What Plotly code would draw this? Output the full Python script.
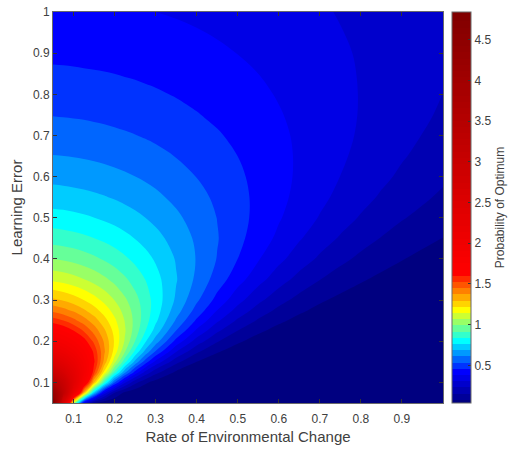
import plotly.graph_objects as go

# ---- data ----
rate_of_change = [0.05, 0.075, 0.1, 0.125, 0.15, 0.175, 0.2, 0.225, 0.25, 0.275, 0.3, 0.35,
                  0.4, 0.45, 0.5, 0.55, 0.6, 0.65, 0.7, 0.75, 0.8, 0.85, 0.9, 1.0]
learning_error = [0.05, 0.075, 0.1, 0.125, 0.15, 0.175, 0.2, 0.225, 0.25, 0.275, 0.3, 0.35,
                  0.4, 0.45, 0.5, 0.55, 0.6, 0.65, 0.7, 0.75, 0.8, 0.85, 0.9, 1.0]

# probability of optimum, one list per learning-error row (columns follow rate_of_change)
p_err_0050 = [4.839, 2.590, 1.080, 0.351, 0.089, 0.017, 0.003, 0.0, 0.0, 0.0, 0.0, 0.0,
              0.0, 0.0, 0.0, 0.0, 0.0, 0.0, 0.0, 0.0, 0.0, 0.0, 0.0, 0.0]
p_err_0075 = [4.259, 3.226, 2.187, 1.326, 0.720, 0.350, 0.152, 0.059, 0.021, 0.006, 0.002, 0.0,
              0.0, 0.0, 0.0, 0.0, 0.0, 0.0, 0.0, 0.0, 0.0, 0.0, 0.0, 0.0]
p_err_0100 = [3.521, 3.011, 2.420, 1.827, 1.295, 0.863, 0.540, 0.317, 0.175, 0.091, 0.044, 0.009,
              0.001, 0.0, 0.0, 0.0, 0.0, 0.0, 0.0, 0.0, 0.0, 0.0, 0.0, 0.0]
p_err_0125 = [2.946, 2.666, 2.318, 1.936, 1.553, 1.198, 0.887, 0.632, 0.432, 0.284, 0.179, 0.063,
              0.019, 0.005, 0.001, 0.0, 0.0, 0.0, 0.0, 0.0, 0.0, 0.0, 0.0, 0.0]
p_err_0150 = [2.516, 2.347, 2.130, 1.879, 1.613, 1.347, 1.093, 0.864, 0.663, 0.495, 0.360, 0.175,
              0.076, 0.030, 0.010, 0.003, 0.001, 0.0, 0.0, 0.0, 0.0, 0.0, 0.0, 0.0]
p_err_0175 = [2.189, 2.080, 1.936, 1.766, 1.579, 1.383, 1.187, 0.998, 0.822, 0.663, 0.525, 0.309,
              0.167, 0.084, 0.039, 0.016, 0.006, 0.002, 0.001, 0.0, 0.0, 0.0, 0.0, 0.0]
p_err_0200 = [1.933, 1.859, 1.760, 1.641, 1.506, 1.360, 1.210, 1.059, 0.913, 0.773, 0.648, 0.431,
              0.270, 0.159, 0.088, 0.045, 0.022, 0.010, 0.004, 0.002, 0.001, 0.0, 0.0, 0.0]
p_err_0225 = [1.730, 1.677, 1.606, 1.520, 1.420, 1.310, 1.194, 1.075, 0.956, 0.840, 0.729, 0.529,
              0.365, 0.240, 0.150, 0.089, 0.051, 0.027, 0.014, 0.007, 0.003, 0.001, 0.001, 0.0]
p_err_0250 = [1.564, 1.526, 1.473, 1.408, 1.333, 1.249, 1.159, 1.064, 0.968, 0.871, 0.777, 0.599,
              0.444, 0.316, 0.216, 0.142, 0.090, 0.054, 0.032, 0.018, 0.010, 0.005, 0.002, 0.001]
p_err_0275 = [1.427, 1.398, 1.358, 1.308, 1.250, 1.185, 1.114, 1.038, 0.960, 0.880, 0.800, 0.645,
              0.504, 0.380, 0.278, 0.196, 0.134, 0.089, 0.057, 0.035, 0.021, 0.012, 0.007, 0.002]
p_err_0300 = [1.312, 1.289, 1.258, 1.219, 1.174, 1.122, 1.065, 1.004, 0.940, 0.874, 0.807, 0.673,
              0.547, 0.432, 0.332, 0.248, 0.180, 0.127, 0.087, 0.058, 0.038, 0.024, 0.015, 0.005]
p_err_0350 = [1.128, 1.114, 1.094, 1.069, 1.040, 1.006, 0.968, 0.927, 0.883, 0.837, 0.789, 0.691,
              0.593, 0.499, 0.411, 0.332, 0.262, 0.203, 0.154, 0.115, 0.084, 0.060, 0.042, 0.019]
p_err_0400 = [0.990, 0.980, 0.967, 0.950, 0.930, 0.906, 0.880, 0.851, 0.820, 0.787, 0.753, 0.680,
              0.605, 0.530, 0.457, 0.387, 0.324, 0.266, 0.216, 0.172, 0.135, 0.104, 0.079, 0.044]
p_err_0450 = [0.881, 0.874, 0.865, 0.853, 0.839, 0.822, 0.803, 0.782, 0.760, 0.736, 0.710, 0.655,
              0.597, 0.538, 0.478, 0.420, 0.365, 0.312, 0.264, 0.221, 0.183, 0.149, 0.120, 0.075]
p_err_0500 = [0.794, 0.789, 0.782, 0.773, 0.763, 0.750, 0.737, 0.721, 0.704, 0.686, 0.666, 0.624,
              0.579, 0.532, 0.484, 0.436, 0.388, 0.343, 0.300, 0.259, 0.222, 0.188, 0.158, 0.108]
p_err_0550 = [0.722, 0.719, 0.713, 0.707, 0.699, 0.690, 0.679, 0.667, 0.654, 0.640, 0.625, 0.592,
              0.557, 0.519, 0.480, 0.440, 0.400, 0.361, 0.323, 0.286, 0.252, 0.220, 0.190, 0.139]
p_err_0600 = [0.663, 0.660, 0.656, 0.651, 0.644, 0.637, 0.629, 0.620, 0.610, 0.599, 0.587, 0.561,
              0.532, 0.502, 0.470, 0.437, 0.403, 0.370, 0.337, 0.304, 0.273, 0.244, 0.216, 0.166]
p_err_0650 = [0.612, 0.610, 0.607, 0.603, 0.598, 0.592, 0.585, 0.578, 0.570, 0.561, 0.552, 0.531,
              0.508, 0.483, 0.457, 0.429, 0.401, 0.372, 0.344, 0.315, 0.288, 0.261, 0.235, 0.188]
p_err_0700 = [0.569, 0.567, 0.564, 0.561, 0.557, 0.552, 0.547, 0.541, 0.535, 0.528, 0.520, 0.503,
              0.484, 0.464, 0.442, 0.419, 0.395, 0.370, 0.346, 0.321, 0.297, 0.273, 0.249, 0.205]
p_err_0750 = [0.531, 0.529, 0.527, 0.525, 0.521, 0.518, 0.513, 0.509, 0.503, 0.497, 0.491, 0.477,
              0.461, 0.444, 0.426, 0.407, 0.386, 0.365, 0.344, 0.323, 0.301, 0.280, 0.259, 0.219]
p_err_0800 = [0.498, 0.497, 0.495, 0.493, 0.490, 0.487, 0.483, 0.479, 0.475, 0.470, 0.465, 0.453,
              0.440, 0.426, 0.410, 0.394, 0.376, 0.359, 0.340, 0.321, 0.302, 0.284, 0.265, 0.228]
p_err_0850 = [0.469, 0.468, 0.466, 0.464, 0.462, 0.460, 0.457, 0.453, 0.450, 0.445, 0.441, 0.431,
              0.420, 0.408, 0.395, 0.381, 0.366, 0.350, 0.334, 0.318, 0.301, 0.285, 0.268, 0.235]
p_err_0900 = [0.443, 0.442, 0.441, 0.439, 0.437, 0.435, 0.433, 0.430, 0.427, 0.423, 0.419, 0.411,
              0.402, 0.391, 0.380, 0.368, 0.355, 0.342, 0.328, 0.313, 0.299, 0.284, 0.269, 0.239]
p_err_1000 = [0.398, 0.398, 0.397, 0.396, 0.394, 0.393, 0.391, 0.389, 0.387, 0.384, 0.381, 0.375,
              0.368, 0.361, 0.352, 0.343, 0.333, 0.323, 0.312, 0.301, 0.290, 0.278, 0.266, 0.242]

prob_optimum = [p_err_0050, p_err_0075, p_err_0100, p_err_0125, p_err_0150, p_err_0175,
                p_err_0200, p_err_0225, p_err_0250, p_err_0275, p_err_0300, p_err_0350,
                p_err_0400, p_err_0450, p_err_0500, p_err_0550, p_err_0600, p_err_0650,
                p_err_0700, p_err_0750, p_err_0800, p_err_0850, p_err_0900, p_err_1000]

x_ticks = [0.1, 0.2, 0.3, 0.4, 0.5, 0.6, 0.7, 0.8, 0.9]
y_ticks = [0.1, 0.2, 0.3, 0.4, 0.5, 0.6, 0.7, 0.8, 0.9, 1.0]
cbar_ticks = [0.5, 1.0, 1.5, 2.0, 2.5, 3.0, 3.5, 4.0, 4.5]

# ---- contour levels and colours (style) ----
level_step = 0.0762
n_levels = 63

low_colors = [
    (0, 0, 0.5), (0, 0, 0.6), (0, 0, 0.7), (0, 0, 0.8), (0, 0, 0.9), (0, 0, 1.0),
    (0, 0.2, 1), (0, 0.4, 1), (0, 0.6, 1), (0, 0.8, 1), (0, 1, 1),
    (0.2, 1, 0.8), (0.4, 1, 0.6), (0.6, 1, 0.4), (0.8, 1, 0.2), (1, 1, 0),
    (1, 0.833, 0), (1, 0.667, 0), (1, 0.5, 0), (1, 0.333, 0), (1, 0.167, 0), (1, 0, 0),
]
n_high = n_levels + 1 - len(low_colors)
band_colors = list(low_colors) + [(1 - 0.5 * (i + 1) / n_high, 0, 0) for i in range(n_high)]
colorscale = []
for k, (r, g, b) in enumerate(band_colors):
    colorscale.append([k / n_levels, "rgb(%d,%d,%d)" % (round(r * 255), round(g * 255), round(b * 255))])
colorscale[-1][0] = 1.0

font_family = "Liberation Sans, Arial, Helvetica, sans-serif"
text_color = "#404040"
axis_color = "#6a6a6a"

fig = go.Figure(go.Contour(
    x=rate_of_change,
    y=learning_error,
    z=prob_optimum,
    autocontour=False,
    contours=dict(start=level_step, end=level_step * n_levels + 0.01, size=level_step,
                  coloring="fill", showlines=False),
    line=dict(width=0, smoothing=1.0),
    colorscale=colorscale,
    colorbar=dict(
        x=1.023, xanchor="left", xpad=0, ypad=0,
        y=0.5, yanchor="middle", len=1, lenmode="fraction",
        thickness=19,
        outlinecolor=axis_color, outlinewidth=1,
        tickvals=cbar_ticks, ticktext=[("%g" % v) for v in cbar_ticks],
        ticks="inside", ticklen=3, tickcolor="#333333",
        tickfont=dict(family=font_family, size=12, color=text_color),
        title=dict(text="Probability of Optimum", side="right",
                   font=dict(family=font_family, size=12, color=text_color)),
    ),
    hoverinfo="x+y+z",
))

axis_common = dict(
    showgrid=False, zeroline=False, showline=True, linecolor=axis_color, linewidth=1,
    mirror="allticks", ticks="inside", ticklen=4, tickcolor="#333333",
    tickfont=dict(family=font_family, size=12, color=text_color),
)

fig.update_xaxes(
    range=[0.05, 1.0], tickvals=x_ticks, ticktext=[("%g" % v) for v in x_ticks],
    ticklabelstandoff=5,
    title=dict(text="Rate of Environmental Change", standoff=6,
               font=dict(family=font_family, size=15, color=text_color)),
    **axis_common,
)
fig.update_yaxes(
    range=[0.05, 1.0], tickvals=y_ticks, ticktext=[("%g" % v) for v in y_ticks],
    title=dict(text="Learning Error", standoff=6,
               font=dict(family=font_family, size=15, color=text_color)),
    **axis_common,
)

fig.update_layout(
    width=517, height=457,
    margin=dict(l=53, r=74, t=12, b=54, autoexpand=False),
    paper_bgcolor="white", plot_bgcolor="white",
    font=dict(family=font_family, size=12, color=text_color),
    showlegend=False,
)

fig.write_html("out.html")
